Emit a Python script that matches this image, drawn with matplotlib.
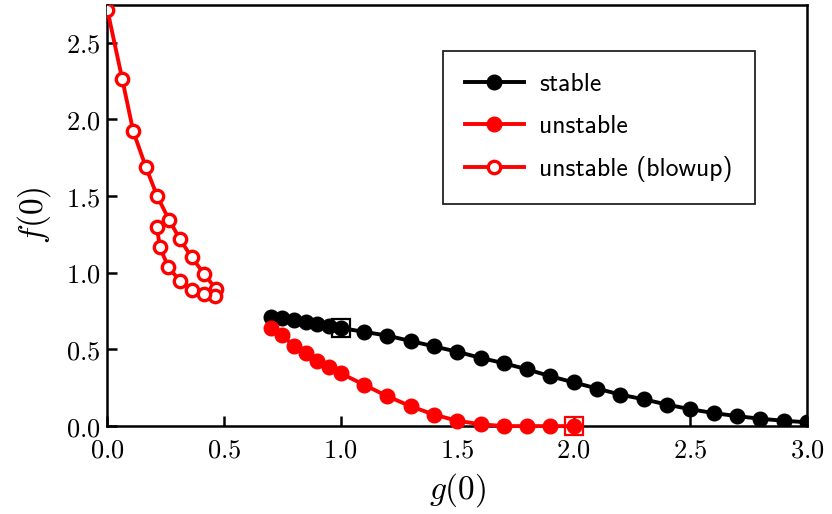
import matplotlib
matplotlib.use("Agg")
import matplotlib.pyplot as plt
from matplotlib.ticker import FuncFormatter

plt.rcParams["mathtext.fontset"] = "cm"

# stable branch
stable_g = [0.7, 0.75, 0.8, 0.85, 0.9, 0.95, 1.0, 1.1, 1.2, 1.3, 1.4, 1.5, 1.6, 1.7, 1.8, 1.9,
            2.0, 2.1, 2.2, 2.3, 2.4, 2.5, 2.6, 2.7, 2.8, 2.9, 3.0]
stable_f = [0.71, 0.705, 0.69, 0.68, 0.665, 0.65, 0.64, 0.615, 0.59, 0.555, 0.52, 0.485, 0.445,
            0.41, 0.37, 0.325, 0.285, 0.245, 0.205, 0.175, 0.14, 0.11, 0.085, 0.065, 0.048,
            0.035, 0.025]

# unstable branch
unstable_g = [0.7, 0.75, 0.8, 0.85, 0.9, 0.95, 1.0, 1.1, 1.2, 1.3, 1.4, 1.5, 1.6, 1.7, 1.8, 1.9, 2.0]
unstable_f = [0.64, 0.595, 0.52, 0.475, 0.425, 0.385, 0.345, 0.27, 0.195, 0.13, 0.075, 0.035,
              0.012, 0.0, 0.0, 0.0, 0.0]

# unstable (blowup) branch
blowup_g = [0.0, 0.064, 0.111, 0.165, 0.214, 0.264, 0.312, 0.362, 0.414, 0.465, 0.462, 0.414,
            0.362, 0.312, 0.261, 0.226, 0.212]
blowup_f = [2.716, 2.262, 1.923, 1.69, 1.499, 1.347, 1.217, 1.1, 0.995, 0.895, 0.849, 0.859,
            0.887, 0.945, 1.038, 1.165, 1.299]

# highlighted points
mark_stable = (1.0, 0.64)
mark_unstable = (2.0, 0.0)

fig = plt.figure(figsize=(8.32, 5.14), dpi=100)
ax = fig.add_axes([0.129, 0.171, 0.841, 0.819])

lw = 2.8
ms = 10.5
ax.plot(stable_g, stable_f, "-o", color="black", lw=lw, ms=ms, label="stable", zorder=3)
ax.plot(unstable_g, unstable_f, "-o", color="red", lw=lw, ms=ms, label="unstable",
        zorder=3, clip_on=False)
ax.plot(blowup_g, blowup_f, "-o", color="red", lw=lw, ms=ms * 0.85, mfc="white", mew=2.4,
        label="unstable (blowup)", zorder=3)

ax.plot(*mark_stable, "s", ms=13, mfc="none", mec="black", mew=1.6, zorder=4)
ax.plot(*mark_unstable, "s", ms=13, mfc="none", mec="red", mew=1.6, zorder=4, clip_on=False)

ax.set_xlim(0, 3.0)
ax.set_ylim(0, 2.745)
ax.set_xticks([0.0, 0.5, 1.0, 1.5, 2.0, 2.5, 3.0])
ax.set_yticks([0.0, 0.5, 1.0, 1.5, 2.0, 2.5])
fmt = FuncFormatter(lambda v, p: f"${v:.1f}$")
ax.xaxis.set_major_formatter(fmt)
ax.yaxis.set_major_formatter(fmt)
ax.tick_params(direction="in", length=7, width=1.8, labelsize=19)
ax.tick_params(axis="x", pad=8)
ax.tick_params(axis="y", pad=5)
for s in ax.spines.values():
    s.set_linewidth(1.8)

ax.set_xlabel("$g(0)$", fontsize=24, labelpad=6)
ax.set_ylabel("$f(0)$", fontsize=24, labelpad=9)

leg = ax.legend(loc="upper right", bbox_to_anchor=(0.925, 0.89), borderaxespad=0,
                prop={"family": "cmss10", "size": 18.5}, fancybox=False, edgecolor="#222222",
                framealpha=1, handlelength=2.3, labelspacing=0.72, borderpad=0.85,
                handletextpad=0.6)
leg.get_frame().set_linewidth(1.3)

fig.savefig("out.png", dpi=100)
